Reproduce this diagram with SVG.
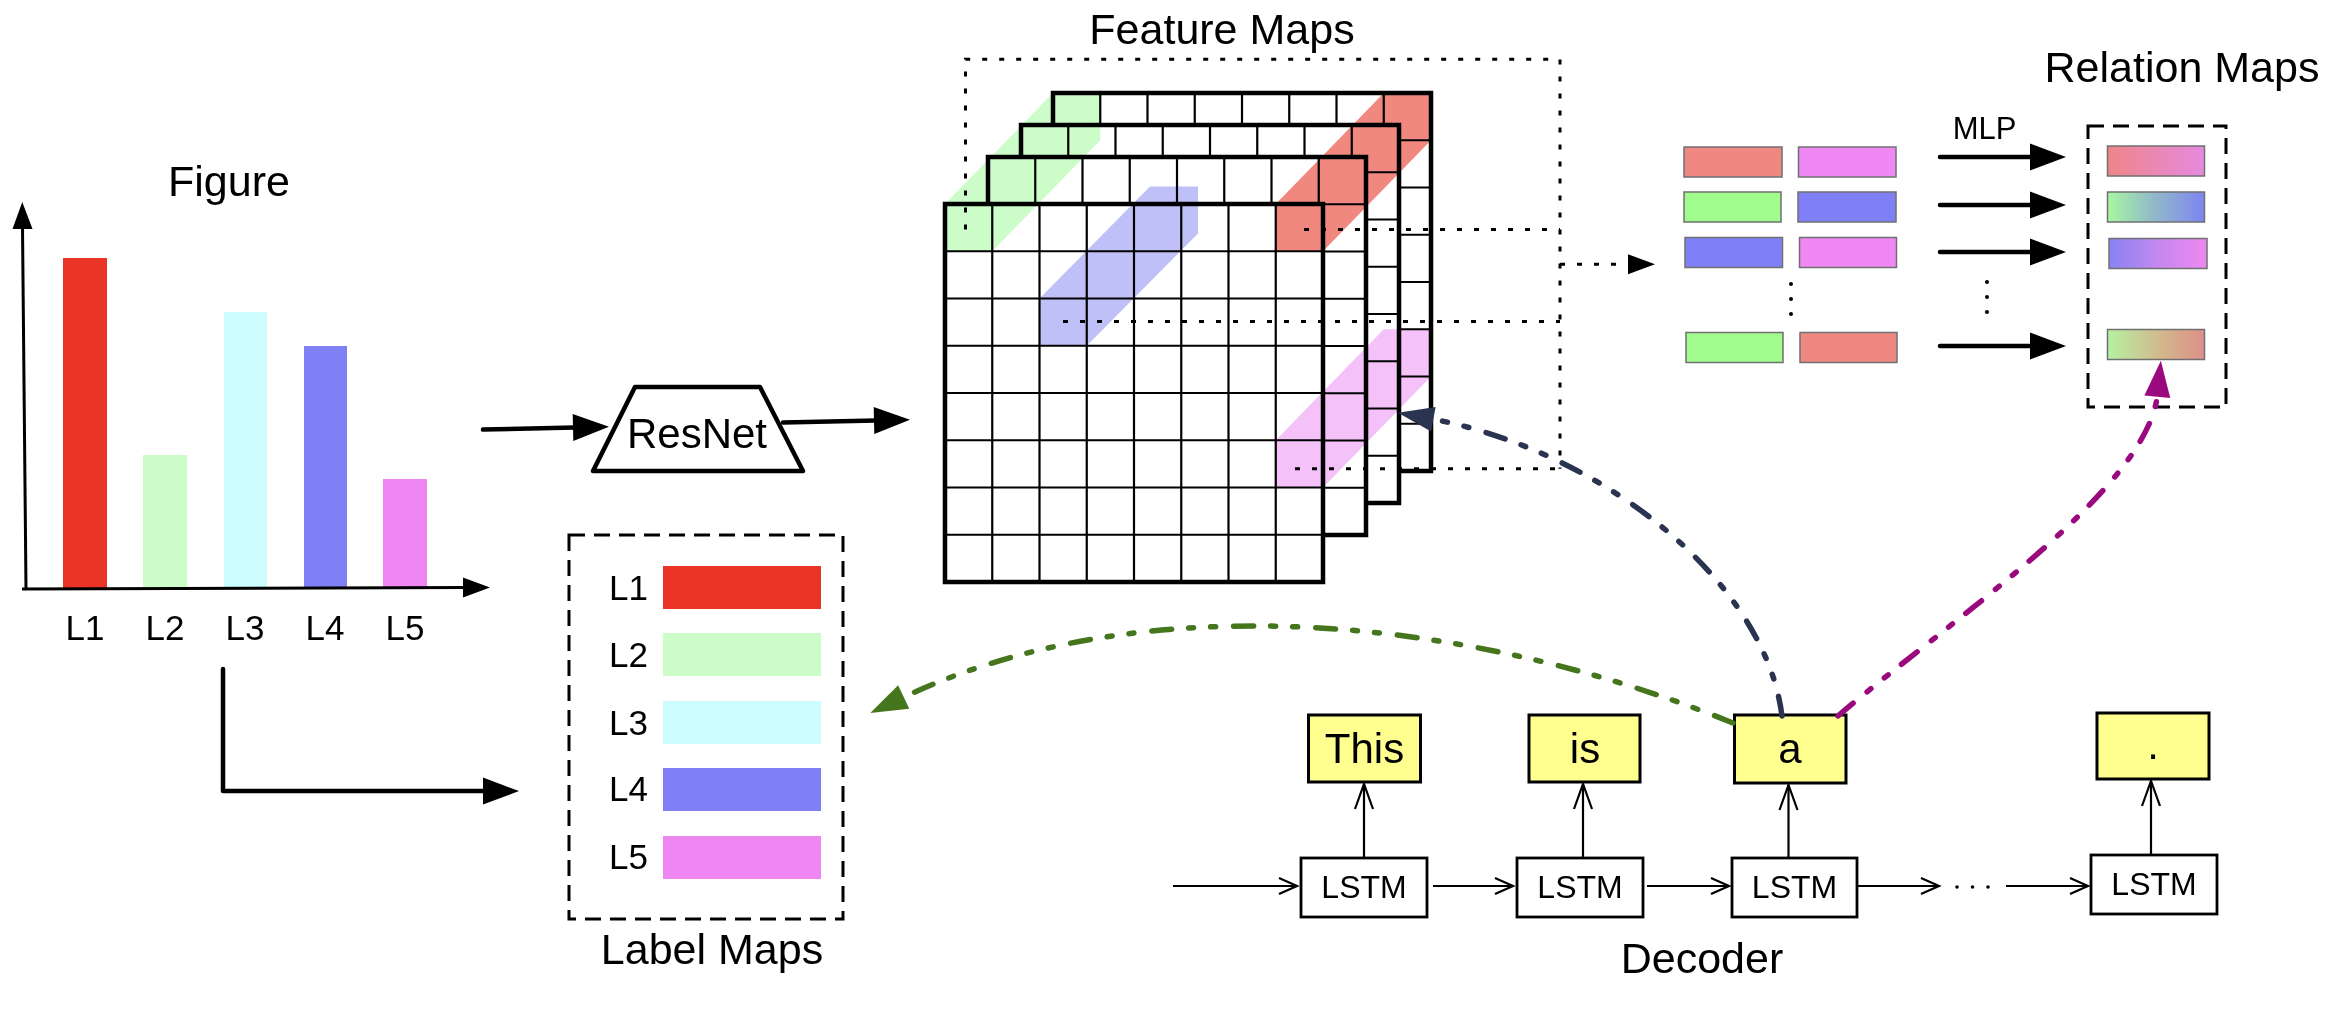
<svg xmlns="http://www.w3.org/2000/svg" xmlns:xlink="http://www.w3.org/1999/xlink" width="2352" height="1014" viewBox="0 0 2352 1014">
<style>
text{font-family:"Liberation Sans",Arial,Helvetica,sans-serif;fill:#000}
.title{font-size:43px;text-anchor:middle}
.lbl{font-size:35px}
.lblc{font-size:35px;text-anchor:middle}
.word{font-size:42px;text-anchor:middle}
.lstm{font-size:32px;text-anchor:middle}
.thick{fill:none;stroke:#000;stroke-width:4.5;stroke-linecap:round;stroke-linejoin:round}
.thin{fill:none;stroke:#000;stroke-width:2.2}
.dotted{fill:none;stroke:#000;stroke-width:3;stroke-dasharray:5 12}
.dashbox{fill:none;stroke:#000;stroke-width:3;stroke-dasharray:16 9}
.pair{stroke:#707070;stroke-width:1.5}
.band{mix-blend-mode:multiply}
.curve{fill:none;stroke-width:5.5;stroke-linecap:round;stroke-dasharray:20 18 5 17 5 17}
.box{fill:#fff;stroke:#000;stroke-width:2.8}
.wbox{fill:#FFFF8F;stroke:#000;stroke-width:3}
</style>
<defs>
<marker id="ahBlack" markerUnits="userSpaceOnUse" markerWidth="36" markerHeight="27" refX="2" refY="13.5" orient="auto" overflow="visible"><path d="M0,0 L36,13.5 L0,27 z" fill="#000"/></marker>
<marker id="ahAxis" markerUnits="userSpaceOnUse" markerWidth="27" markerHeight="20" refX="2" refY="10" orient="auto" overflow="visible"><path d="M0,0 L27,10 L0,20 z" fill="#000"/></marker>
<marker id="chevH" markerUnits="userSpaceOnUse" markerWidth="18" markerHeight="16" refX="18" refY="8" orient="auto" overflow="visible"><path d="M0,0 L18,8 L0,16" fill="none" stroke="#000" stroke-width="2.2"/></marker>
<marker id="chevV" markerUnits="userSpaceOnUse" markerWidth="25" markerHeight="18" refX="25" refY="9" orient="auto" overflow="visible"><path d="M0,0 L25,9 L0,18" fill="none" stroke="#000" stroke-width="2.2"/></marker>
<marker id="ahNavy" markerUnits="userSpaceOnUse" markerWidth="36" markerHeight="25" refX="3" refY="12.5" orient="auto" overflow="visible"><path d="M0,0 L36,12.5 L0,25 z" fill="#2A3450"/></marker>
<marker id="ahMag" markerUnits="userSpaceOnUse" markerWidth="36" markerHeight="26" refX="3" refY="13" orient="auto" overflow="visible"><path d="M0,0 L36,13 L0,26 z" fill="#9A0A7E"/></marker>
<marker id="ahGreen" markerUnits="userSpaceOnUse" markerWidth="37" markerHeight="26" refX="3" refY="13" orient="auto" overflow="visible"><path d="M0,0 L37,13 L0,26 z" fill="#45761E"/></marker>
<g id="gridLayer">
<rect width="378" height="378" fill="#fff"/>
<path class="thin" d="M47.25,0V378M94.5,0V378M141.75,0V378M189,0V378M236.25,0V378M283.5,0V378M330.75,0V378M0,47.25H378M0,94.5H378M0,141.75H378M0,189H378M0,236.25H378M0,283.5H378M0,330.75H378"/>
<rect width="378" height="378" fill="none" stroke="#000" stroke-width="4.5"/>
</g>
<linearGradient id="g1" x1="0" x2="1" y1="0" y2="0"><stop offset="0" stop-color="#EF8588"/><stop offset="1" stop-color="#E58AE0"/></linearGradient>
<linearGradient id="g2" x1="0" x2="1" y1="0" y2="0"><stop offset="0" stop-color="#A8F7A0"/><stop offset="0.45" stop-color="#92BCC6"/><stop offset="1" stop-color="#7E84F2"/></linearGradient>
<linearGradient id="g3" x1="0" x2="1" y1="0" y2="0"><stop offset="0" stop-color="#8882F2"/><stop offset="0.5" stop-color="#C488F0"/><stop offset="1" stop-color="#EE88F0"/></linearGradient>
<linearGradient id="g4" x1="0" x2="1" y1="0" y2="0"><stop offset="0" stop-color="#B4F2A0"/><stop offset="0.55" stop-color="#D2B88E"/><stop offset="1" stop-color="#DE8E88"/></linearGradient>
</defs>

<g id="figure">
<text class="title" x="229" y="196">Figure</text>
<rect x="63" y="258" width="44" height="330" fill="#E93426"/>
<rect x="143" y="455" width="44" height="133" fill="#CCFCC8"/>
<rect x="224" y="312" width="43" height="276" fill="#CCFCFC"/>
<rect x="304" y="346" width="43" height="242" fill="#8080F6"/>
<rect x="383" y="479" width="44" height="109" fill="#EF87F3"/>
<path d="M26,589 L22.5,227" fill="none" stroke="#000" stroke-width="3" marker-end="url(#ahAxis)"/>
<path d="M22,589 L465,587.5" fill="none" stroke="#000" stroke-width="3" marker-end="url(#ahAxis)"/>
<text class="lblc" x="85" y="640">L1</text>
<text class="lblc" x="165" y="640">L2</text>
<text class="lblc" x="245" y="640">L3</text>
<text class="lblc" x="325" y="640">L4</text>
<text class="lblc" x="405" y="640">L5</text>
</g>

<g id="resnet">
<path d="M635,387 L760,387 L803,471 L593,471 Z" fill="#fff" stroke="#000" stroke-width="4.5" stroke-linejoin="round"/>
<text x="697" y="448" style="font-size:42px;text-anchor:middle">ResNet</text>
</g>

<g id="label-maps">
<rect class="dashbox" x="569" y="535" width="274" height="384"/>
<text class="lbl" x="609" y="600">L1</text>
<text class="lbl" x="609" y="667">L2</text>
<text class="lbl" x="609" y="735">L3</text>
<text class="lbl" x="609" y="801">L4</text>
<text class="lbl" x="609" y="869">L5</text>
<rect x="663" y="566" width="158" height="43" fill="#E93426"/>
<rect x="663" y="633" width="158" height="43" fill="#CCFCC8"/>
<rect x="663" y="701" width="158" height="43" fill="#CCFCFC"/>
<rect x="663" y="768" width="158" height="43" fill="#8080F6"/>
<rect x="663" y="836" width="158" height="43" fill="#EF87F3"/>
<text class="title" x="712" y="964">Label Maps</text>
</g>

<g id="feature-maps">
<text class="title" x="1222" y="44">Feature Maps</text>
<use href="#gridLayer" x="1053" y="93"/>
<use href="#gridLayer" x="1021" y="125"/>
<use href="#gridLayer" x="988" y="157"/>
<use href="#gridLayer" x="945" y="204"/>
<polygon class="band" points="945,251.25 945,204 1053,93 1100.25,93 1100.25,140.25 992.25,251.25" fill="#CCFCC8"/>
<polygon class="band" points="1275.75,251.25 1275.75,204 1383.75,93 1431,93 1431,140.25 1323,251.25" fill="#F08880"/>
<polygon class="band" points="1039.5,345.75 1039.5,298.5 1150,186.5 1198,186.5 1198,233.5 1086.75,345.75" fill="#C0C0F8"/>
<polygon class="band" points="1275.75,487.5 1275.75,440.25 1383.75,329.25 1431,329.25 1431,376.5 1323,487.5" fill="#F4C2F8"/>
</g>

<g id="pairs">
<rect class="pair" x="1684" y="147" width="98" height="30" fill="#F08882"/>
<rect class="pair" x="1798.5" y="147" width="97.5" height="30" fill="#EF88F5"/>
<rect class="pair" x="1684" y="192" width="97" height="30" fill="#A0FC8C"/>
<rect class="pair" x="1798" y="192" width="98" height="30" fill="#8080F6"/>
<rect class="pair" x="1685" y="237.5" width="97.5" height="30" fill="#8080F6"/>
<rect class="pair" x="1799.5" y="237.5" width="97" height="30" fill="#EF88F5"/>
<rect class="pair" x="1686" y="332.5" width="97" height="30" fill="#A0FC8C"/>
<rect class="pair" x="1800" y="332.5" width="97" height="30" fill="#F08882"/>
<circle cx="1791" cy="284" r="2"/><circle cx="1791" cy="299" r="2"/><circle cx="1791" cy="314" r="2"/>
<circle cx="1987" cy="282" r="2"/><circle cx="1987" cy="297" r="2"/><circle cx="1987" cy="312" r="2"/>
<text x="1984.5" y="139" style="font-size:31px;text-anchor:middle">MLP</text>
</g>

<g id="relation-maps">
<text class="title" x="2182" y="82">Relation Maps</text>
<rect class="dashbox" x="2088" y="126" width="138" height="281"/>
<rect class="pair" x="2107.5" y="146" width="97" height="30" fill="url(#g1)"/>
<rect class="pair" x="2107.5" y="192" width="97" height="30" fill="url(#g2)"/>
<rect class="pair" x="2109" y="238.5" width="98" height="30" fill="url(#g3)"/>
<rect class="pair" x="2107.5" y="329.5" width="97" height="30" fill="url(#g4)"/>
</g>

<g id="decoder">
<rect class="wbox" x="1308.5" y="715" width="112" height="67"/>
<text class="word" x="1364.5" y="763">This</text>
<rect class="wbox" x="1529" y="715" width="111" height="67"/>
<text class="word" x="1585" y="763">is</text>
<rect class="wbox" x="1734.5" y="715" width="111.5" height="68"/>
<text class="word" x="1790" y="763">a</text>
<rect class="wbox" x="2097" y="713" width="112" height="66"/>
<text class="word" x="2153" y="759">.</text>
<rect class="box" x="1301" y="858" width="126" height="59"/>
<text class="lstm" x="1364" y="898">LSTM</text>
<rect class="box" x="1517" y="858" width="126" height="59"/>
<text class="lstm" x="1580" y="898">LSTM</text>
<rect class="box" x="1732" y="858" width="125" height="59"/>
<text class="lstm" x="1794.5" y="898">LSTM</text>
<rect class="box" x="2091" y="855" width="126" height="59"/>
<text class="lstm" x="2154" y="895">LSTM</text>
<text class="title" x="1702" y="973">Decoder</text>
</g>

<g id="connectors">
<path class="thick" d="M483,429.6 L575,427.5" marker-end="url(#ahBlack)"/>
<path class="thick" d="M783,422.5 L876,420.5" marker-end="url(#ahBlack)"/>
<path class="thick" d="M223,669 L223,791 L485,791" marker-end="url(#ahBlack)"/>
<path class="thick" d="M1940,157 L2032,157" marker-end="url(#ahBlack)"/>
<path class="thick" d="M1940,205 L2032,205" marker-end="url(#ahBlack)"/>
<path class="thick" d="M1940,252 L2032,252" marker-end="url(#ahBlack)"/>
<path class="thick" d="M1940,346 L2032,346" marker-end="url(#ahBlack)"/>

<path class="dotted" d="M965.5,229.6 V59.3 H1560 V468.8"/>
<path class="dotted" d="M1304,229.6 H1560"/>
<path class="dotted" d="M1063,321.6 H1560"/>
<path class="dotted" d="M1295,468.8 H1560"/>
<path class="dotted" d="M1560,264.3 H1630" marker-end="url(#ahAxis)"/>

<g fill="none" stroke="#000" stroke-width="2.2">
<path d="M1173,886 H1297" marker-end="url(#chevH)"/>
<path d="M1433,886 H1513" marker-end="url(#chevH)"/>
<path d="M1647,886 H1729" marker-end="url(#chevH)"/>
<path d="M1858,886 H1939" marker-end="url(#chevH)"/>
<path d="M2006,886 H2088" marker-end="url(#chevH)"/>
<path d="M1364,858 V784" marker-end="url(#chevV)"/>
<path d="M1583,858 V784" marker-end="url(#chevV)"/>
<path d="M1788.5,858 V785" marker-end="url(#chevV)"/>
<path d="M2151,855 V781" marker-end="url(#chevV)"/>
</g>
<circle cx="1957" cy="887" r="1.8"/><circle cx="1972.5" cy="887" r="1.8"/><circle cx="1988" cy="887" r="1.8"/>

<path class="curve" stroke="#45761E" d="M1733,723 C1480,620 1150,580 901,698.4" marker-end="url(#ahGreen)"/>
<path class="curve" stroke="#2A3450" d="M1782,716 C1765,580 1600,450 1430.4,418.7" marker-end="url(#ahNavy)"/>
<path class="curve" stroke="#9A0A7E" d="M1838,716 C1950,620 2148,490 2157.6,393.7" marker-end="url(#ahMag)"/>
</g>
</svg>
